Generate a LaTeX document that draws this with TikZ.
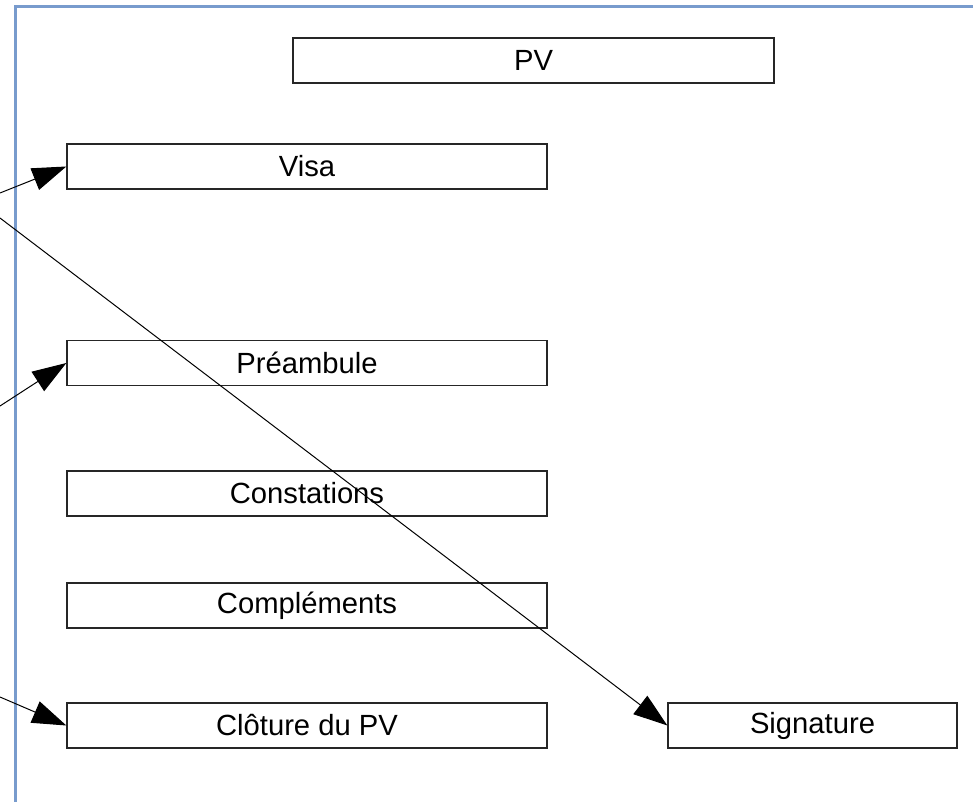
\documentclass[tikz,border=0pt]{standalone}
\usepackage{fontspec}
\setmainfont{Liberation Sans}
\usepackage{tikz}
\usetikzlibrary{arrows.meta}
\usetikzlibrary{positioning}
\definecolor{cadre}{RGB}{120,155,205}
\begin{document}
\begin{tikzpicture}[x=0.5pt,y=-0.5pt,
  fleche/.style={-{Triangle[length=17pt,width=11.5pt]},line width=0.5pt}]
\tikzstyle{bloc}=[draw=black!85,line width=0.65pt,inner sep=0pt,
  minimum height=22.5pt,font=\fontsize{14.6pt}{17pt}\selectfont]
\tikzstyle{large}=[bloc,minimum width=240pt]
\useasboundingbox (0,0) rectangle (973,802);
%\draw[help lines] (0,0) grid (973,802);
% cadre de la page
\draw[cadre,line width=1.1pt] (973,6.5) -- (15.5,6.5) -- (15.5,802);
% blocs
\node[large,minimum width=240.5pt] (pv) at (533.5,60.5) {PV};
\node[large] (visa) at (307,166.5) {Visa};
\node[large] (preambule) at (307,363) {Préambule};
\node[large] (constations) at (307,493.5) {Constations};
\node[large] (complements) at (307,605.5) {Compléments};
\node[large] (cloture) at (307,725.5) {Clôture du PV};
\node[bloc,minimum width=144.5pt] (signature) at (812.5,725.5) {Signature};
% points de depart hors cadre
\coordinate (versvisa) at (0,193);
\coordinate (verssignature) at (0,218);
\coordinate (verspreambule) at (0,406);
\coordinate (verscloture) at (0,697);
\draw[fleche] (versvisa) -- (visa.west);
\draw[fleche] (verssignature) -- (signature.west);
\draw[fleche] (verspreambule) -- (preambule.west);
\draw[fleche] (verscloture) -- (cloture.west);
\end{tikzpicture}
\end{document}
